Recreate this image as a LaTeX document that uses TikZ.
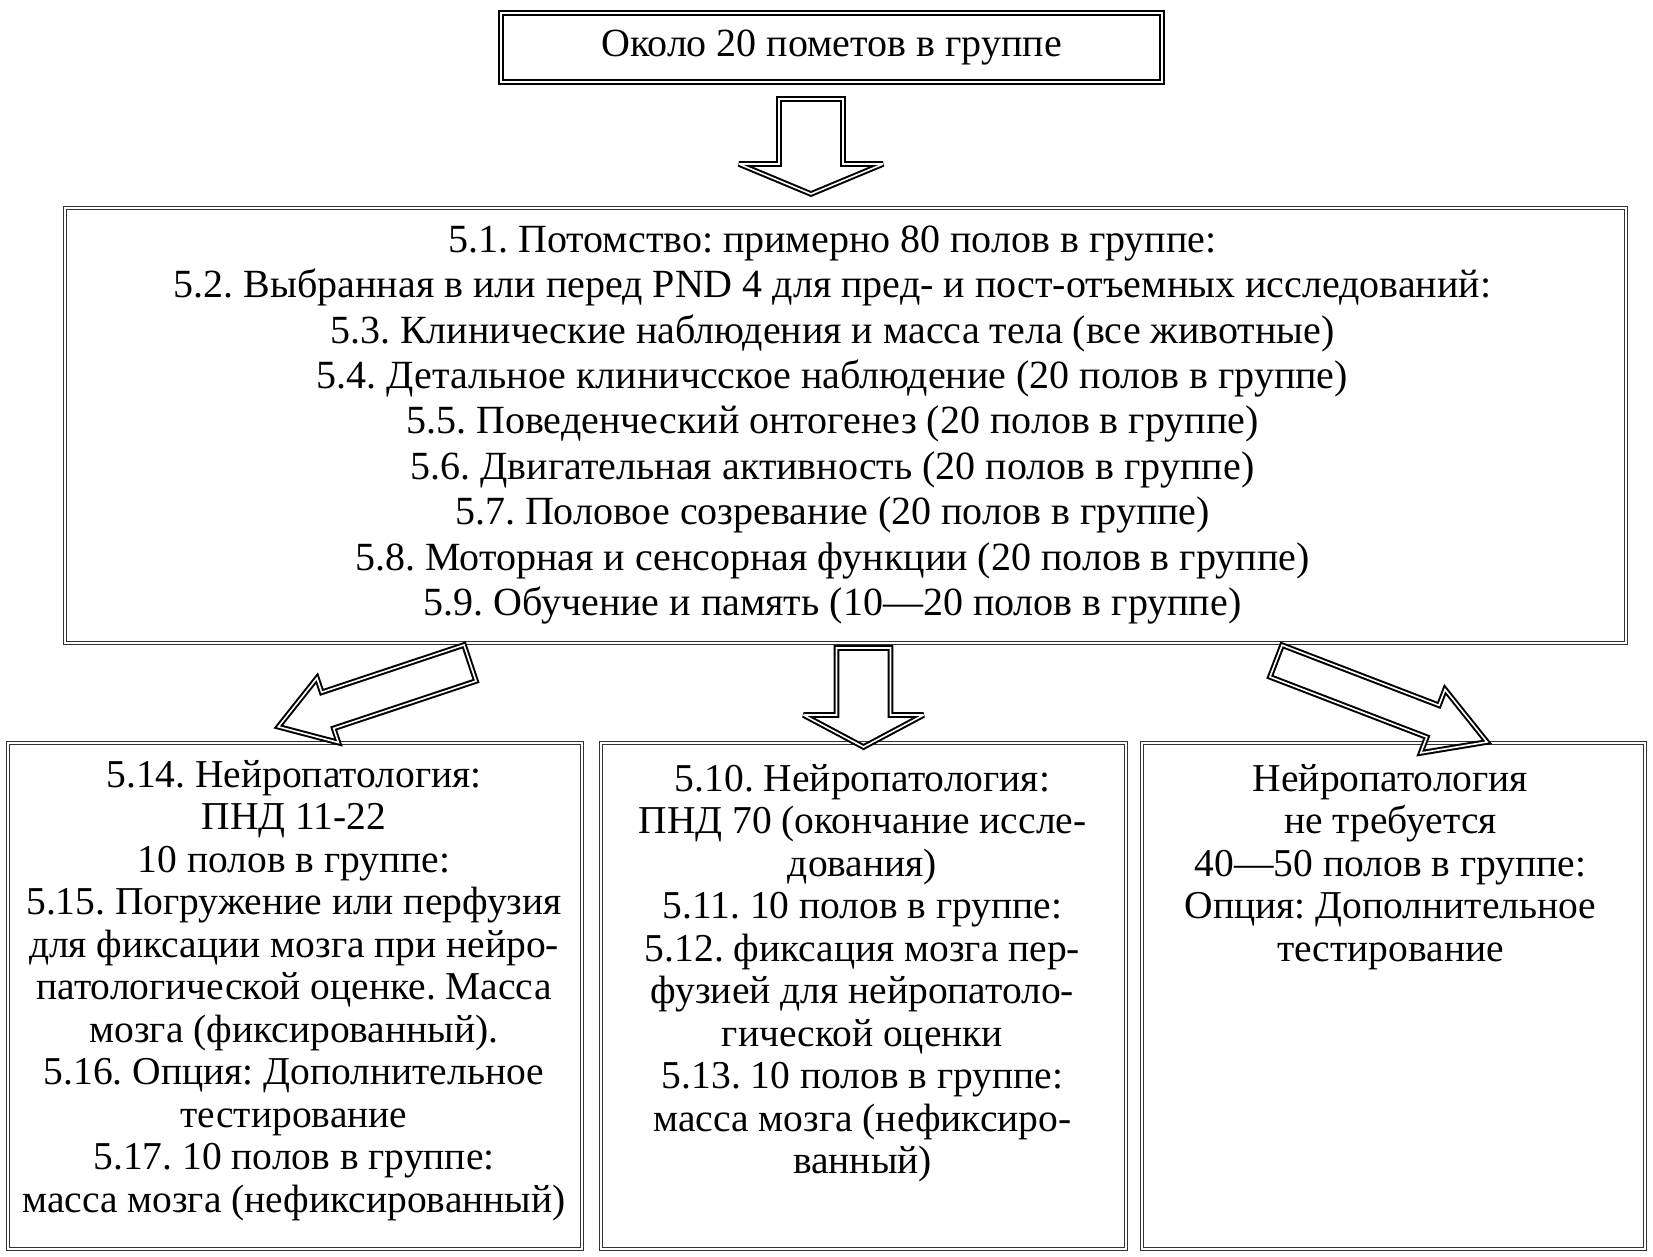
\documentclass[tikz,border=0pt]{standalone}
\usepackage{fontspec}
\setmainfont{Liberation Serif}
\frenchspacing
\newcommand{\blockarr}[7]{%
  \draw[blockarrow, shift={(#1,#2)}, rotate=#3]
    (0,-#5) -- (#4-#6,-#5) -- (#4-#6,-#7) -- (#4,0) -- (#4-#6,#7) -- (#4-#6,#5) -- (0,#5) -- cycle;}
\begin{document}
\frenchspacing
\begin{tikzpicture}[x=1pt,y=-1pt,
  topbox/.style={draw, line width=2.2pt, double, double distance=2.5pt, inner sep=0pt},
  databox/.style={draw=black!80, line width=1.3pt, double, double distance=1.6pt, inner sep=0pt},
  blockarrow/.style={draw, line width=2pt, double, double distance=1.6pt, line join=miter, miter limit=4},
  bigtxt/.style={align=center, inner sep=0pt, font=\fontsize{40}{45.4}\selectfont},
  boxtxt/.style={align=center, inner sep=0pt, anchor=north, font=\fontsize{39.5}{42.5}\selectfont}]
\useasboundingbox (0,0) rectangle (1653,1257);
\fill[white] (0,0) rectangle (1653,1257);

\node[topbox, minimum width=661pt, minimum height=69pt, font=\fontsize{40}{45}\selectfont] (top) at (831.5,47.5) {Около 20 пометов в группе};

\node[databox, minimum width=1561pt, minimum height=435pt] (main) at (845.5,425.5) {};
\node[bigtxt] (maintxt) at (832.5,425) {5.1. Потомство: примерно 80 полов в группе:\\
5.2. Выбранная в или перед PND 4 для пред- и пост-отъемных исследований:\\
5.3. Клинические наблюдения и масса тела (все животные)\\
5.4. Детальное клиничсское наблюдение (20 полов в группе)\\
5.5. Поведенческий онтогенез (20 полов в группе)\\
5.6. Двигательная активность (20 полов в группе)\\
5.7. Половое созревание (20 полов в группе)\\
5.8. Моторная и сенсорная функции (20 полов в группе)\\
5.9. Обучение и память (10—20 полов в группе)};

\node[databox, minimum width=574pt, minimum height=506pt] (left) at (295,996) {};
\node[databox, minimum width=525pt, minimum height=506pt] (mid) at (863.5,996) {};
\node[databox, minimum width=503pt, minimum height=506pt] (right) at (1393.5,996) {};

\node[boxtxt] (lefttxt) at (294,760) {5.14. Нейропатология:\\
ПНД 11-22\\
10 полов в группе:\\
5.15. Погружение или перфузия\\
для фиксации мозга при нейро-\\
патологической оценке. Масса\\
мозга (фиксированный).\\
5.16. Опция: Дополнительное\\
тестирование\\
5.17. 10 полов в группе:\\
масса мозга (нефиксированный)};

\node[boxtxt] (midtxt) at (862.5,764) {5.10. Нейропатология:\\
ПНД 70 (окончание иссле-\\
дования)\\
5.11. 10 полов в группе:\\
5.12. фиксация мозга пер-\\
фузией для нейропатоло-\\
гической оценки\\
5.13. 10 полов в группе:\\
масса мозга (нефиксиро-\\
ванный)};

\node[boxtxt] (righttxt) at (1390.5,764) {Нейропатология\\
не требуется\\
40—50 полов в группе:\\
Опция: Дополнительное\\
тестирование};

% block arrows: x y angle length shafthalf headlen headhalf
\blockarr{811}{99}{-90}{95}{32}{30}{72}
\blockarr{863.5}{648}{-90}{99}{27}{32}{60}
\blockarr{470}{663}{198.4}{202}{19}{52}{34}
\blockarr{1276}{661}{-21}{226}{17}{58}{34}
\end{tikzpicture}
\end{document}
